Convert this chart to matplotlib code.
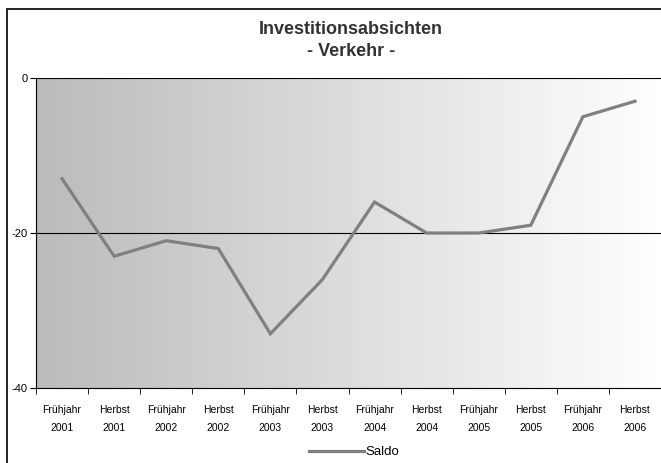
import numpy as np
import matplotlib.pyplot as plt
from matplotlib.patches import Rectangle
from matplotlib.colors import LinearSegmentedColormap

plt.rcParams['font.family'] = ['Liberation Sans', 'DejaVu Sans']

seasons = ["Frühjahr", "Herbst"] * 6
years = ["2001", "2001", "2002", "2002", "2003", "2003",
         "2004", "2004", "2005", "2005", "2006", "2006"]
saldo = [-13, -23, -21, -22, -33, -26, -16, -20, -20, -19, -5, -3]

labels = [s + "\n" + y for s, y in zip(seasons, years)]
x = np.arange(len(saldo))

fig = plt.figure(figsize=(6.61, 4.63), dpi=100)
fig.patch.set_facecolor("white")

# outer chart frame (left and top edges visible)
fig.add_artist(Rectangle((7 / 661, -0.05), 1.1, 1 - 9 / 463 + 0.05,
                         transform=fig.transFigure, fill=False,
                         edgecolor="black", linewidth=1.2))

ax = fig.add_axes([36 / 661, 1 - 388 / 463, 1 - 36 / 661, 310 / 463])

# grey-to-white gradient background
grad = np.linspace(0, 1, 256).reshape(1, -1)
cmap = LinearSegmentedColormap.from_list("bg", ["#bbbbbb", "#ffffff"])
ax.imshow(grad, cmap=cmap, aspect="auto", extent=[-0.5, 11.5, -40, 0], zorder=0)

ax.plot(x, saldo, color="#808080", linewidth=2.3, solid_joinstyle="miter",
        label="Saldo", zorder=3)

ax.set_xlim(-0.5, 11.5)
ax.set_ylim(-40, 0)
ax.set_yticks([0, -20, -40])
ax.set_yticklabels(["0", "-20", "-40"], fontsize=8)
for yv in [0, -20]:
    ax.axhline(yv, color="black", linewidth=0.8, zorder=2)

ax.set_xticks(x)
ax.set_xticklabels(labels, fontsize=7.5, linespacing=2.0)
ax.set_xticks(np.arange(-0.5, 12, 1), minor=True)
ax.tick_params(axis="x", which="major", length=0, pad=12)
ax.tick_params(axis="x", which="minor", length=4, direction="out")
ax.tick_params(axis="y", length=4, direction="out", pad=2)

for side in ["top", "right"]:
    ax.spines[side].set_visible(False)
ax.spines["left"].set_color("black")
ax.spines["bottom"].set_color("black")

fig.text(351 / 661, 1 - 29 / 463, "Investitionsabsichten", ha="center", va="center",
         fontsize=13, fontweight="bold", color="#333333")
fig.text(351 / 661, 1 - 52 / 463, "- Verkehr -", ha="center", va="center",
         fontsize=13, fontweight="bold", color="#333333")

fig.legend(loc="center", bbox_to_anchor=(354 / 661, 1 - 452 / 463), frameon=False,
           fontsize=9.5, handlelength=4.2, handletextpad=0.1)

fig.savefig("out.png", dpi=100)
